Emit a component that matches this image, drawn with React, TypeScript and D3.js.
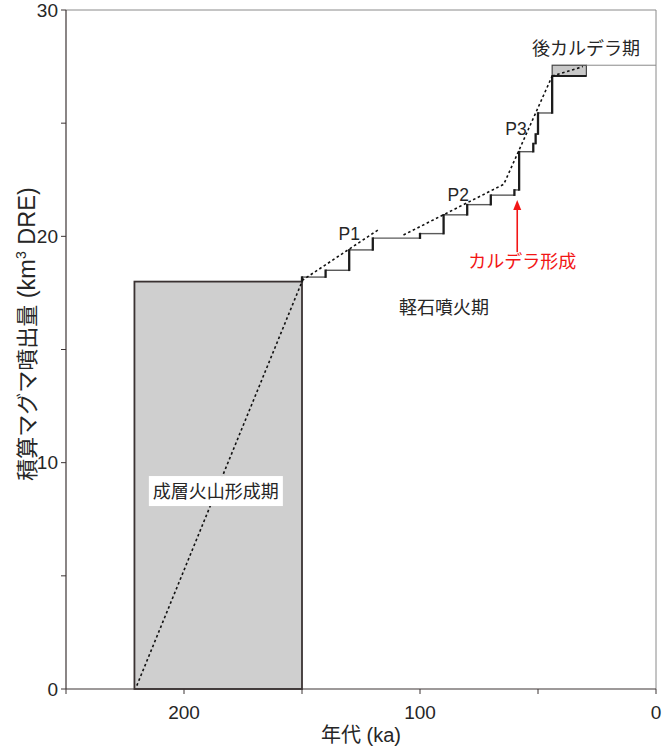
import React from "react";
import * as d3 from "d3";

// Cumulative erupted magma volume (km³ DRE) against age (ka)

// Stratovolcano-building stage (block)
const stratoAges = [221, 150];
const stratoVolumes = [0, 18];

// Pumice eruption stage: eruption ages and cumulative volume after each eruption
const pumiceStartVolume = 18.0;
const eruptionAges = [150, 140, 130, 120, 100, 90, 80, 70, 60, 58, 52, 51, 50, 44];
const eruptionVolumes = [18.2, 18.5, 19.4, 19.92, 20.12, 20.95, 21.4, 21.82, 22.05, 23.74, 24.1, 24.52, 25.45, 27.08];

// Post-caldera stage (block) and the flat run up to the present
const postAges = [44, 29.5];
const postVolumes = [27.08, 27.56];
const presentAge = 0;

// Dashed trend lines
const trendStrato: [number, number][] = [[220, 0.15], [150, 18]];
const trendP1: [number, number][] = [[150, 18.05], [117.5, 20.3]];
const trendP2P3: [number, number][] = [[107, 20.06], [64.5, 22.3], [44, 27.08]];
const trendPost: [number, number][] = [[44, 27.08], [31, 27.5]];

// Axis ticks
const xMajorTicks = [200, 100, 0];
const xMinorTicks = [250, 150, 50];
const yMajorTicks = [0, 10, 20, 30];
const yMinorTicks = [5, 15, 25];

// Annotations
const cycleLabels = [
  { text: "P1", age: 130, vol: 20.1 },
  { text: "P2", age: 83.8, vol: 21.83 },
  { text: "P3", age: 59.3, vol: 24.74 },
];
const calderaAge = 58.8;

const W = 663;
const H = 751;
const LATIN = "'Liberation Sans', Arial, Helvetica, sans-serif";
const JP = "'Noto Sans CJK JP', 'Noto Sans', sans-serif";
const MIXED = "'Liberation Sans', 'Noto Sans CJK JP', sans-serif";

export default function App() {
  const x = d3.scaleLinear().domain([250, 0]).range([66, 656]);
  const y = d3.scaleLinear().domain([0, 30]).range([689, 10]);

  const line = d3
    .line<[number, number]>()
    .x((d) => x(d[0]))
    .y((d) => y(d[1]));

  // staircase pieces
  const verticals: { a: number; v0: number; v1: number }[] = [];
  const horizontals: { a0: number; a1: number; v: number }[] = [];
  eruptionAges.forEach((a, i) => {
    const prev = i === 0 ? pumiceStartVolume : eruptionVolumes[i - 1];
    verticals.push({ a, v0: prev, v1: eruptionVolumes[i] });
    const next = i < eruptionAges.length - 1 ? eruptionAges[i + 1] : postAges[0];
    if (next !== a) horizontals.push({ a0: a, a1: next, v: eruptionVolumes[i] });
  });

  const axisColor = "#3d3535";
  const frameColor = "#8a8a8a";
  const textColor = "#262626";

  return (
    <svg
      width={W}
      height={H}
      viewBox={`0 0 ${W} ${H}`}
      style={{ position: "absolute", left: 0, top: 0, background: "#fff" }}
    >
      {/* frame top & right */}
      <line x1={x(250)} x2={x(0)} y1={y(30)} y2={y(30)} stroke={frameColor} strokeWidth={1} />
      <line x1={x(0)} x2={x(0)} y1={y(30)} y2={y(0)} stroke={frameColor} strokeWidth={1} />

      {/* stratovolcano block */}
      <rect
        x={x(stratoAges[0])}
        y={y(stratoVolumes[1])}
        width={x(stratoAges[1]) - x(stratoAges[0])}
        height={y(stratoVolumes[0]) - y(stratoVolumes[1])}
        fill="#cfcfcf"
        stroke="#3a3232"
        strokeWidth={1.8}
      />
      <path d={line(trendStrato) || ""} fill="none" stroke="#111" strokeWidth={1.6} strokeDasharray="2.6 2.6" />
      <rect x={x(186.5) - 67} y={y(8.79) - 14} width={134} height={30} fill="#fff" />
      <text
        x={x(186.5)}
        y={y(8.79)}
        fontFamily={JP}
        fontSize={18}
        fill={textColor}
        textAnchor="middle"
        dominantBaseline="central"
      >
        成層火山形成期
      </text>

      {/* post-caldera block and flat line to present */}
      <rect
        x={x(postAges[0])}
        y={y(postVolumes[1])}
        width={x(postAges[1]) - x(postAges[0])}
        height={y(postVolumes[0]) - y(postVolumes[1])}
        fill="#c8c8c8"
        stroke="#444"
        strokeWidth={1.2}
      />
      <line
        x1={x(postAges[0])}
        x2={x(postAges[1])}
        y1={y(postVolumes[0])}
        y2={y(postVolumes[0])}
        stroke="#1c1c1c"
        strokeWidth={2}
      />
      <line
        x1={x(postAges[1])}
        x2={x(presentAge)}
        y1={y(postVolumes[1])}
        y2={y(postVolumes[1])}
        stroke={frameColor}
        strokeWidth={1}
      />

      {/* staircase */}
      {horizontals.map((h, i) => (
        <line
          key={`h${i}`}
          x1={x(h.a0)}
          x2={x(h.a1)}
          y1={y(h.v)}
          y2={y(h.v)}
          stroke="#5a5a5a"
          strokeWidth={1.4}
        />
      ))}
      {verticals.map((v, i) => (
        <line
          key={`v${i}`}
          x1={x(v.a)}
          x2={x(v.a)}
          y1={y(v.v0) + 0.8}
          y2={y(v.v1) - 0.8}
          stroke="#1c1c1c"
          strokeWidth={2.3}
        />
      ))}

      {/* trend lines */}
      {[trendP1, trendP2P3, trendPost].map((t, i) => (
        <path
          key={`t${i}`}
          d={line(t) || ""}
          fill="none"
          stroke="#111"
          strokeWidth={1.6}
          strokeDasharray="2.6 2.6"
        />
      ))}

      {/* cycle labels */}
      {cycleLabels.map((l) => (
        <text
          key={l.text}
          x={x(l.age)}
          y={y(l.vol)}
          fontFamily={LATIN}
          fontSize={17.5}
          fill={textColor}
          textAnchor="middle"
          dominantBaseline="central"
        >
          {l.text}
        </text>
      ))}

      {/* stage labels */}
      <text x={x(29.7)} y={y(28.37)} fontFamily={JP} fontSize={18} fill={textColor} textAnchor="middle" dominantBaseline="central">
        後カルデラ期
      </text>
      <text x={x(89.8)} y={y(16.92)} fontFamily={JP} fontSize={18} fill={textColor} textAnchor="middle" dominantBaseline="central">
        軽石噴火期
      </text>

      {/* caldera formation marker */}
      <line
        x1={x(calderaAge)}
        x2={x(calderaAge)}
        y1={y(19.3)}
        y2={y(21.3)}
        stroke="#f21515"
        strokeWidth={1.6}
      />
      <path
        d={`M${x(calderaAge)},${y(21.6)} L${x(calderaAge) - 4},${y(21.6) + 10} L${x(calderaAge) + 4},${y(21.6) + 10} Z`}
        fill="#f21515"
      />
      <text x={x(56.7)} y={y(18.94)} fontFamily={JP} fontSize={18} fill="#f21515" textAnchor="middle" dominantBaseline="central">
        カルデラ形成
      </text>

      {/* y axis */}
      <line x1={x(250)} x2={x(250)} y1={y(30)} y2={y(0)} stroke={axisColor} strokeWidth={1.2} />
      {[...yMajorTicks, ...yMinorTicks].map((t) => (
        <line key={`yt${t}`} x1={x(250) - 5} x2={x(250)} y1={y(t)} y2={y(t)} stroke={axisColor} strokeWidth={1} />
      ))}
      {yMajorTicks.map((t) => (
        <text
          key={`yl${t}`}
          x={x(250) - 8}
          y={y(t)}
          fontFamily={LATIN}
          fontSize={19}
          fill={textColor}
          textAnchor="end"
          dominantBaseline="central"
        >
          {t}
        </text>
      ))}

      {/* x axis */}
      <line x1={x(250)} x2={x(0)} y1={y(0)} y2={y(0)} stroke={axisColor} strokeWidth={1.2} />
      {[...xMajorTicks, ...xMinorTicks].map((t) => (
        <line key={`xt${t}`} x1={x(t)} x2={x(t)} y1={y(0)} y2={y(0) + 5} stroke={axisColor} strokeWidth={1} />
      ))}
      {xMajorTicks.map((t) => (
        <text
          key={`xl${t}`}
          x={x(t)}
          y={y(0) + 30}
          fontFamily={LATIN}
          fontSize={19}
          fill={textColor}
          textAnchor="middle"
        >
          {t}
        </text>
      ))}

      {/* axis titles */}
      <text x={361} y={742} fontFamily={MIXED} fontSize={20} fill={textColor} textAnchor="middle">
        <tspan fontFamily={JP}>年代</tspan>
        <tspan> (ka)</tspan>
      </text>
      <text
        transform={`translate(35, ${(183 + 485) / 2}) rotate(-90)`}
        fontFamily={MIXED}
        fontSize={22}
        fill={textColor}
        textAnchor="middle"
      >
        <tspan fontFamily={JP}>積算マグマ噴出量</tspan>
        <tspan fontSize={23.5}> (km</tspan>
        <tspan fontSize={14} dy={-9}>3</tspan>
        <tspan fontSize={23.5} dy={9}> DRE)</tspan>
      </text>
    </svg>
  );
}
